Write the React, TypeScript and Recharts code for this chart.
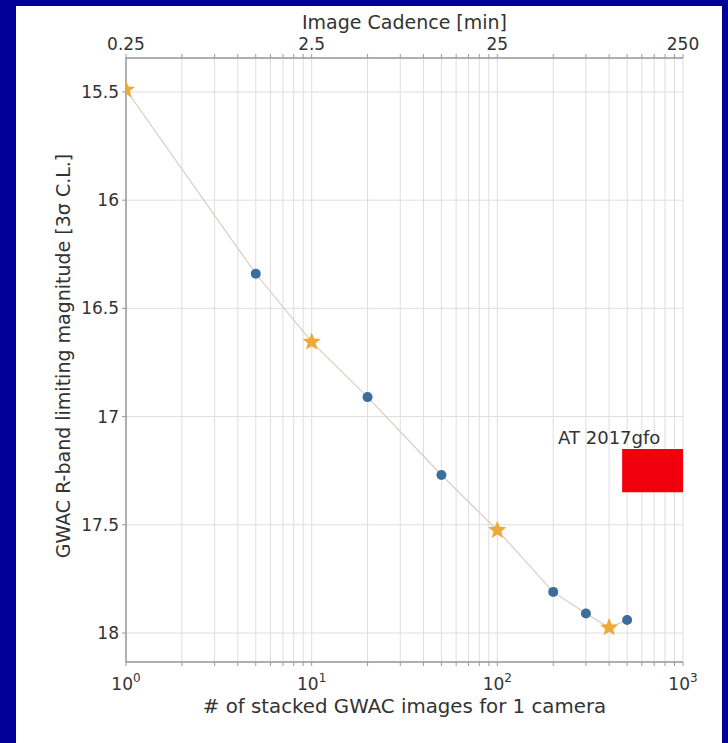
import { ComposedChart, Scatter, XAxis, YAxis, CartesianGrid, ReferenceArea } from 'recharts'

// stacked images -> limiting magnitude
const stackedBlue = [5, 20, 50, 200, 300, 500]
const magBlue = [16.34, 16.91, 17.27, 17.81, 17.91, 17.94]
const stackedStar = [1, 10, 100, 400]
const magStar = [15.49, 16.655, 17.525, 17.975]

// AT 2017gfo box
const gfoStacked = [470, 1000]
const gfoMag = [17.15, 17.35]
const gfoLabel = 'AT 2017gfo'

const gridTicks = [
  1, 2, 3, 4, 5, 6, 7, 8, 9,
  10, 20, 30, 40, 50, 60, 70, 80, 90,
  100, 200, 300, 400, 500, 600, 700, 800, 900, 1000,
]
const decadeTicks = [1, 10, 100, 1000]
const decadeExponents = ['0', '1', '2', '3']
const cadenceLabels = ['0.25', '2.5', '25', '250']
const magTicks = [15.5, 16, 16.5, 17, 17.5, 18]
const magDomain = [15.343, 18.134]

const blueData = stackedBlue.map((n, i) => ({ n, mag: magBlue[i] }))
const starData = stackedStar.map((n, i) => ({ n, mag: magStar[i] }))
const lineData = [...blueData, ...starData].sort((a, b) => a.n - b.n)

const FONT = 'DejaVu Sans'
const TXT = '#333'
const SPINE = '#9a9a9a'

function Star(props: any) {
  const { cx, cy } = props
  const pts: string[] = []
  for (let k = 0; k < 10; k++) {
    const r = k % 2 === 0 ? 9.5 : 4.2
    const a = -Math.PI / 2 + (k * Math.PI) / 5
    pts.push(`${cx + r * Math.cos(a)},${cy + r * Math.sin(a)}`)
  }
  return <polygon points={pts.join(' ')} fill="#efa83a" />
}

function Dot(props: any) {
  return <circle cx={props.cx} cy={props.cy} r={5} fill="#3b6e9c" />
}

function BottomTick({ x, y, payload }: any) {
  const i = decadeTicks.indexOf(payload.value)
  if (i < 0) return null
  return (
    <text x={x} y={y + 22} textAnchor="middle" fill={TXT} fontSize={17} fontFamily={FONT}>
      10<tspan dy={-8} fontSize={12}>{decadeExponents[i]}</tspan>
    </text>
  )
}

function TopTick({ x, y, payload }: any) {
  const i = decadeTicks.indexOf(payload.value)
  if (i < 0) return null
  return (
    <text x={x} y={y - 2} textAnchor="middle" fill={TXT} fontSize={17} fontFamily={FONT}>
      {cadenceLabels[i]}
    </text>
  )
}

export default function App() {
  return (
    <div style={{ position: 'fixed', left: 0, top: 0, width: 728, height: 743, background: '#000099' }}>
      <div style={{ position: 'absolute', left: 16, top: 6, width: 706, height: 737, background: '#fff' }}>
        <ComposedChart width={706} height={737} margin={{ top: 0, right: 39, bottom: 0, left: 0 }}>
          <CartesianGrid stroke="#dedede" strokeWidth={1} />
          <XAxis
            dataKey="n"
            type="number"
            scale="log"
            domain={[1, 1000]}
            allowDataOverflow
            ticks={gridTicks}
            interval={0}
            height={81}
            tickSize={4}
            tickMargin={2}
            stroke={SPINE}
            axisLine={{ stroke: SPINE, strokeWidth: 1.5 }}
            tick={<BottomTick />}
            label={{
              content: ({ viewBox }: any) => (
                <text x={viewBox.x + viewBox.width / 2} y={viewBox.y + 51} textAnchor="middle" fill={TXT} fontSize={19.8} fontFamily={FONT}>
                  # of stacked GWAC images for 1 camera
                </text>
              ),
            }}
          />
          <XAxis
            xAxisId="top"
            orientation="top"
            dataKey="n"
            type="number"
            scale="log"
            domain={[1, 1000]}
            allowDataOverflow
            ticks={gridTicks}
            interval={0}
            height={52}
            tickSize={4}
            tickMargin={2}
            stroke={SPINE}
            axisLine={{ stroke: SPINE, strokeWidth: 1.5 }}
            tick={<TopTick />}
            label={{
              content: ({ viewBox }: any) => (
                <text x={viewBox.x + viewBox.width / 2} y={viewBox.y + 23} textAnchor="middle" fill={TXT} fontSize={19} fontFamily={FONT}>
                  Image Cadence [min]
                </text>
              ),
            }}
          />
          <YAxis
            dataKey="mag"
            type="number"
            domain={magDomain}
            reversed
            allowDataOverflow
            ticks={magTicks}
            interval={0}
            width={110}
            tickSize={4}
            tickMargin={3}
            stroke={SPINE}
            axisLine={{ stroke: SPINE, strokeWidth: 1.5 }}
            tick={{ fill: TXT, fontSize: 17, fontFamily: FONT }}
            label={{
              content: ({ viewBox }: any) => {
                const cx = 47
                const cy = viewBox.y + viewBox.height / 2 - 4
                return (
                  <text x={cx} y={cy} transform={`rotate(-90 ${cx} ${cy})`} textAnchor="middle" dominantBaseline="central" fill={TXT} fontSize={19} fontFamily={FONT}>
                    GWAC R-band limiting magnitude [3σ C.L.]
                  </text>
                )
              },
            }}
          />
          <YAxis
            yAxisId="r"
            orientation="right"
            type="number"
            domain={magDomain}
            reversed
            width={0}
            tick={false}
            tickLine={false}
            axisLine={{ stroke: SPINE, strokeWidth: 1.5 }}
          />
          <ReferenceArea
            x1={gfoStacked[0]}
            x2={gfoStacked[1]}
            y1={gfoMag[0]}
            y2={gfoMag[1]}
            fill="#f2000e"
            fillOpacity={1}
            stroke="none"
            label={{
              content: ({ viewBox }: any) => (
                <text x={viewBox.x - 64} y={viewBox.y - 5} fill={TXT} fontSize={18} fontFamily={FONT}>
                  {gfoLabel}
                </text>
              ),
            }}
          />
          <Scatter data={lineData} line={{ stroke: '#d8cdc2', strokeWidth: 1.2 }} shape={() => <g />} isAnimationActive={false} />
          <Scatter data={blueData} shape={<Dot />} isAnimationActive={false} />
          <Scatter data={starData} shape={<Star />} isAnimationActive={false} />
        </ComposedChart>
      </div>
    </div>
  )
}
